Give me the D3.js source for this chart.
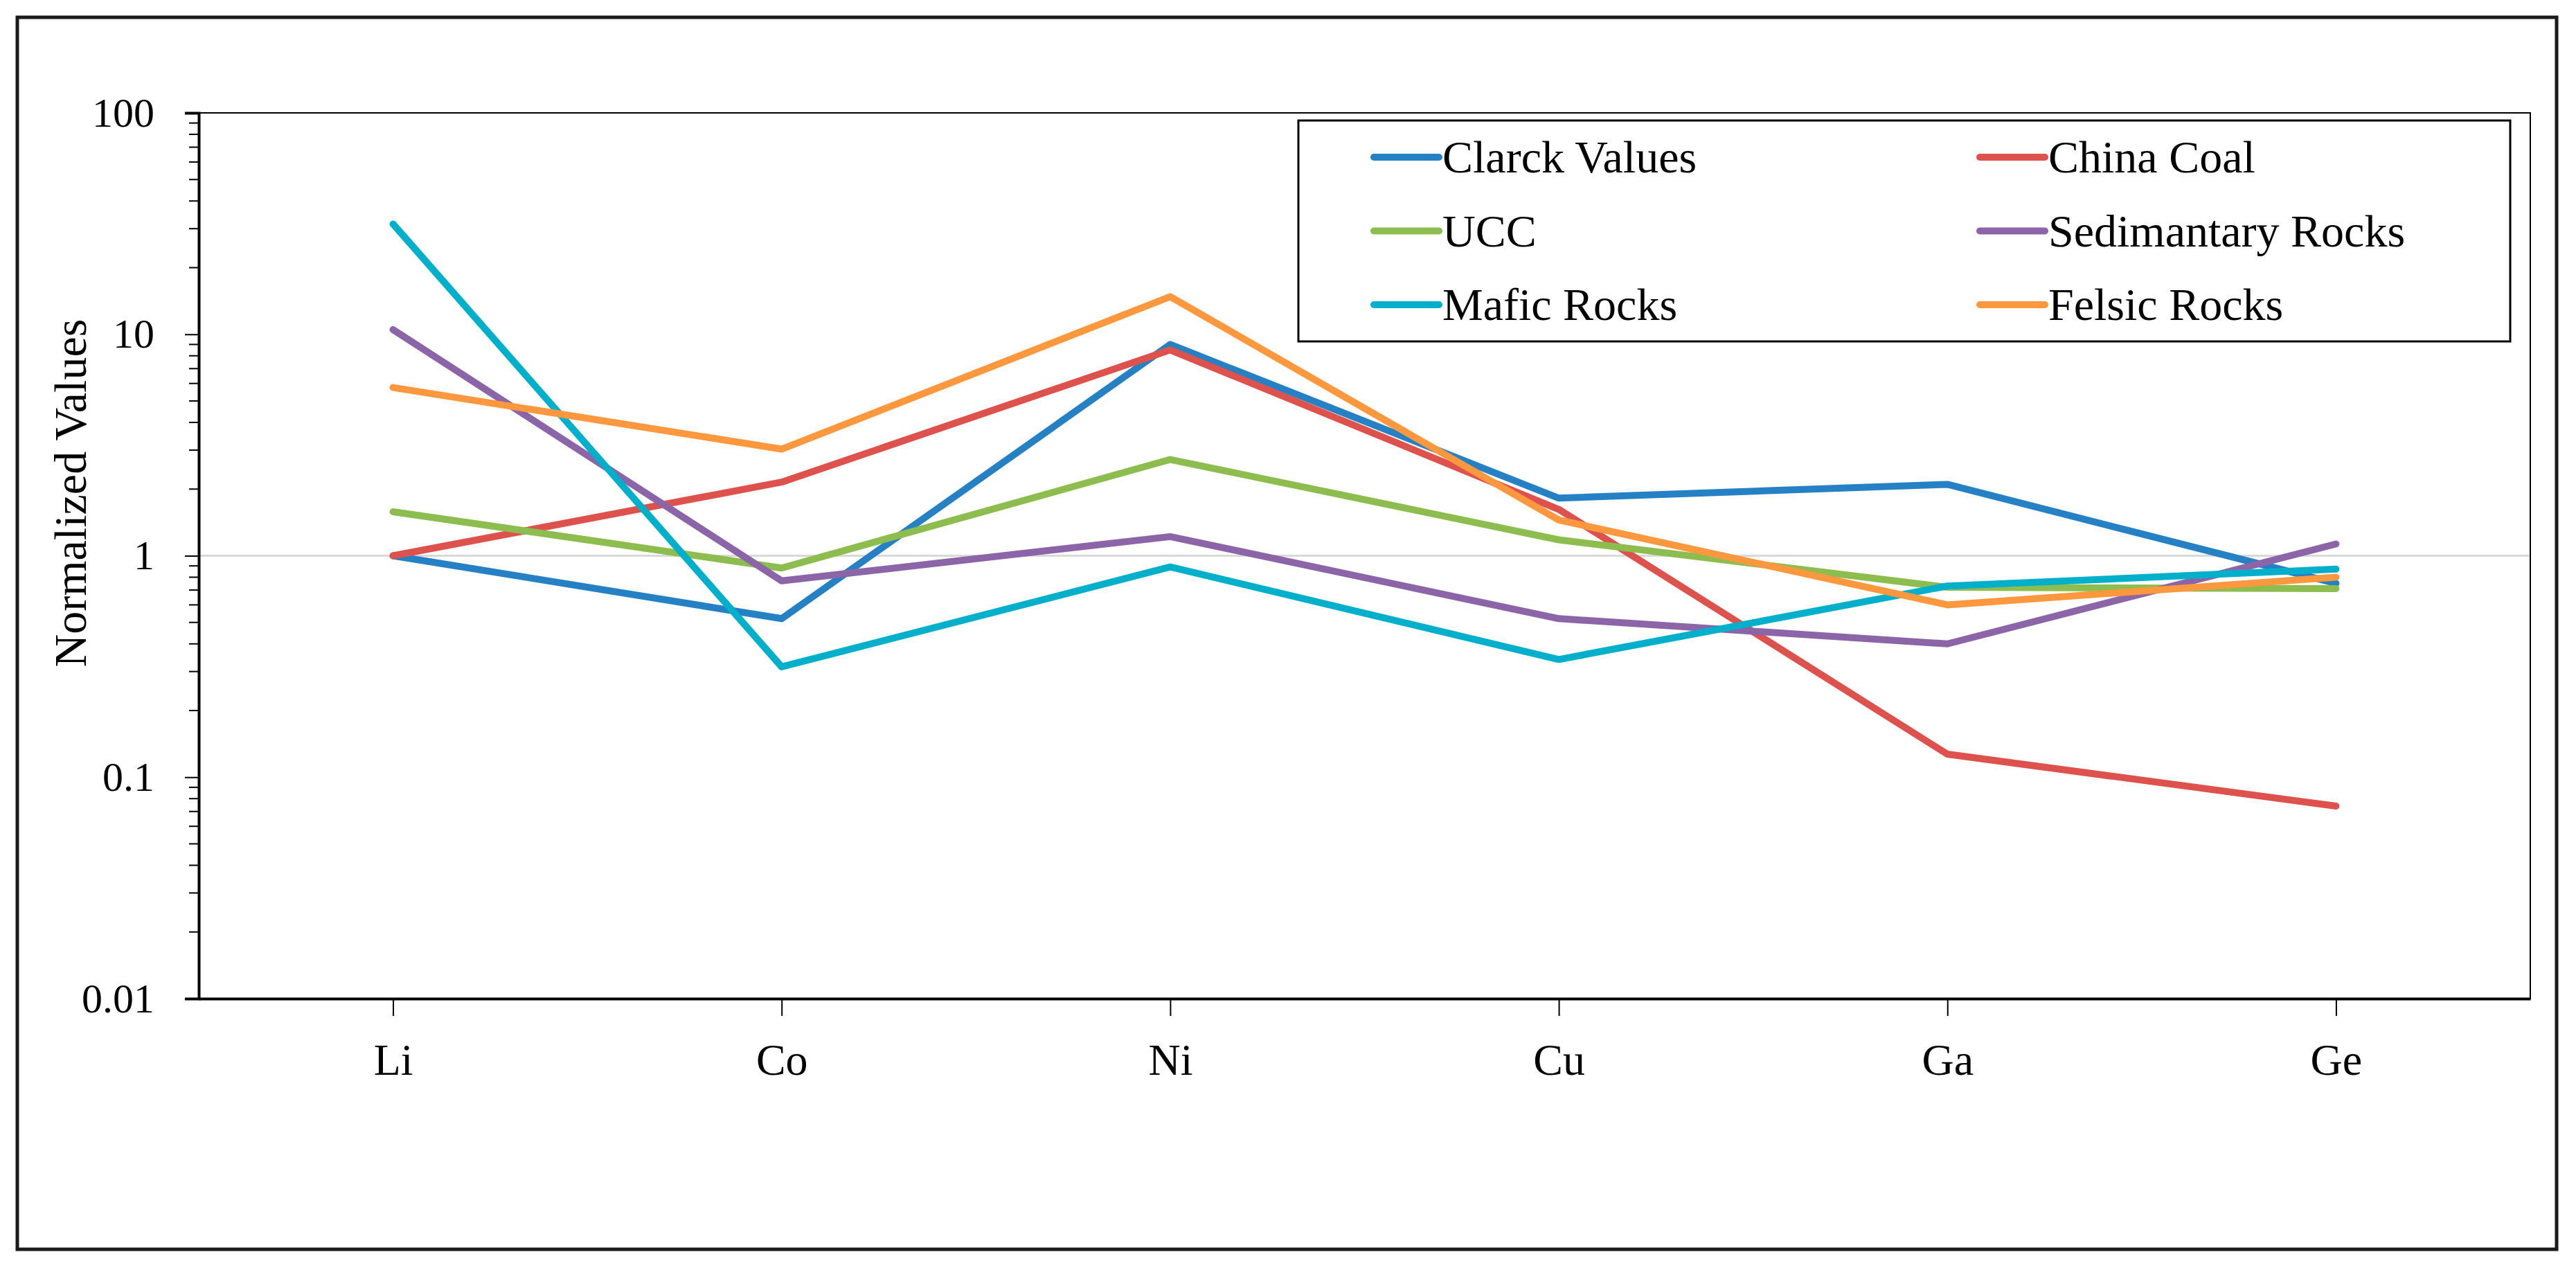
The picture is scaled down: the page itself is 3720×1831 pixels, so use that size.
<!DOCTYPE html>
<html>
<head>
<meta charset="utf-8">
<script src="https://cdn.jsdelivr.net/npm/d3@7"></script>
<style>
  html, body { margin: 0; padding: 0; background: #fff; }
  svg { display: block; }
  text { font-family: "Liberation Serif", "Times New Roman", serif; fill: #000; }
</style>
</head>
<body>
<svg id="chart"></svg>
<script>
// chart data
const elements = ["Li", "Co", "Ni", "Cu", "Ga", "Ge"];
const seriesNames = ["Clarck Values", "China Coal", "UCC", "Sedimantary Rocks", "Mafic Rocks", "Felsic Rocks"];
const clarckValues = [1, 0.52, 9.0, 1.82, 2.1, 0.75];
const chinaCoal = [1, 2.15, 8.5, 1.62, 0.127, 0.074];
const ucc = [1.58, 0.88, 2.72, 1.18, 0.72, 0.71];
const sedimantaryRocks = [10.5, 0.77, 1.22, 0.52, 0.40, 1.13];
const maficRocks = [31.5, 0.315, 0.89, 0.34, 0.73, 0.87];
const felsicRocks = [5.75, 3.03, 14.8, 1.45, 0.60, 0.80];
const yTickValues = [0.01, 0.1, 1, 10, 100];
const yTickLabels = ["0.01", "0.1", "1", "10", "100"];

const seriesValues = [clarckValues, chinaCoal, ucc, sedimantaryRocks, maficRocks, felsicRocks];
const colors = ["#2581c4", "#dd524d", "#8cbd4e", "#8b65a8", "#00afca", "#fe983f"];

const width = 3720;
const height = 1831;
const plot = { left: 287, right: 3654, top: 163, bottom: 1442 };

const svg = d3.select("#chart")
    .attr("width", width)
    .attr("height", height);

// outer frame
svg.append("rect")
    .attr("x", 25).attr("y", 25)
    .attr("width", 3667).attr("height", 1779)
    .attr("fill", "#fff")
    .attr("stroke", "#1a1a1a")
    .attr("stroke-width", 5);

// scales
const x = d3.scalePoint()
    .domain(elements)
    .range([plot.left, plot.right])
    .padding(0.5);

const y = d3.scaleLog()
    .domain([0.01, 100])
    .range([plot.bottom, plot.top]);

// gridline at 1
svg.append("line")
    .attr("x1", plot.left).attr("x2", plot.right)
    .attr("y1", y(1)).attr("y2", y(1))
    .attr("stroke", "#d9d9d9")
    .attr("stroke-width", 3);

// plot border
svg.append("rect")
    .attr("x", plot.left).attr("y", plot.top)
    .attr("width", plot.right - plot.left)
    .attr("height", plot.bottom - plot.top)
    .attr("fill", "none")
    .attr("stroke", "#000")
    .attr("stroke-width", 2);

// y axis: minor ticks
const minorTicks = [];
for (let e = -2; e < 2; e++) {
    for (let m = 2; m <= 9; m++) minorTicks.push(m * Math.pow(10, e));
}
svg.append("g")
    .selectAll("line")
    .data(minorTicks)
    .join("line")
    .attr("x1", plot.left - 14).attr("x2", plot.left)
    .attr("y1", d => y(d)).attr("y2", d => y(d))
    .attr("stroke", "#000")
    .attr("stroke-width", 2);

// y axis: major ticks + labels
const yAxis = svg.append("g")
    .attr("transform", `translate(${plot.left},0)`)
    .call(d3.axisLeft(y)
        .tickValues(yTickValues)
        .tickFormat((d, i) => yTickLabels[i])
        .tickSize(20)
        .tickPadding(44));
yAxis.select(".domain").attr("stroke", "#000").attr("stroke-width", 4);
yAxis.selectAll(".tick line").attr("stroke", "#000").attr("stroke-width", 2);
yAxis.selectAll(".tick text")
    .attr("font-family", "Liberation Serif, serif")
    .attr("font-size", 60)
    .attr("fill", "#000");

// x axis
const xAxis = svg.append("g")
    .attr("transform", `translate(0,${plot.bottom})`)
    .call(d3.axisBottom(x).tickSize(25).tickPadding(40).tickSizeOuter(0));
xAxis.select(".domain").attr("stroke", "#000").attr("stroke-width", 4);
xAxis.selectAll(".tick line").attr("stroke", "#000").attr("stroke-width", 2);
xAxis.selectAll(".tick text")
    .attr("font-family", "Liberation Serif, serif")
    .attr("font-size", 64)
    .attr("fill", "#000");

// y axis title
svg.append("text")
    .attr("transform", "translate(124,712) rotate(-90)")
    .attr("text-anchor", "middle")
    .attr("font-size", 66)
    .text("Normalized Values");

// series lines
const line = d3.line()
    .x((d, i) => x(elements[i]))
    .y(d => y(d));

svg.append("g")
    .selectAll("path")
    .data(seriesValues)
    .join("path")
    .attr("d", d => line(d))
    .attr("fill", "none")
    .attr("stroke", (d, i) => colors[i])
    .attr("stroke-width", 10)
    .attr("stroke-linejoin", "round")
    .attr("stroke-linecap", "round");

// legend
const legend = svg.append("g");
legend.append("rect")
    .attr("x", 1875).attr("y", 174)
    .attr("width", 1750).attr("height", 319)
    .attr("fill", "#fff")
    .attr("stroke", "#000")
    .attr("stroke-width", 3);

const legendItems = legend.selectAll("g.item")
    .data(seriesNames)
    .join("g")
    .attr("class", "item")
    .attr("transform", (d, i) => `translate(${i % 2 === 0 ? 1984 : 2859},${227 + Math.floor(i / 2) * 106.5})`);

legendItems.append("line")
    .attr("x1", 0).attr("x2", 94)
    .attr("y1", 0).attr("y2", 0)
    .attr("stroke", (d, i) => colors[i])
    .attr("stroke-width", 10)
    .attr("stroke-linecap", "round");

legendItems.append("text")
    .attr("x", 99)
    .attr("y", 0)
    .attr("dy", "0.34em")
    .attr("font-size", 66)
    .text(d => d);
</script>
</body>
</html>
